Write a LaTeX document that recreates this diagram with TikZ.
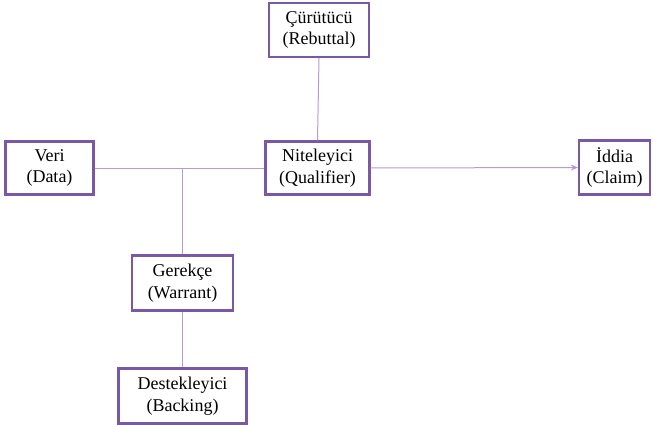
\documentclass[tikz,border=0pt]{standalone}
\usepackage{fontspec}
\setmainfont{Liberation Serif}
\usetikzlibrary{arrows.meta}
\definecolor{boxc}{HTML}{7A58A4}
\definecolor{linec}{HTML}{B49AD6}
\begin{document}
\begin{tikzpicture}[x=1pt,y=-1pt,
  box/.style={draw=boxc,line width=2.2pt,fill=white,inner sep=0pt,align=center,font=\fontsize{18}{21.5}\selectfont},
  conn/.style={draw=linec,line width=1pt}]
\useasboundingbox (0,0) rectangle (653,425);
\node[box,minimum width=100pt,minimum height=54pt] (reb) at (319,30) {Çürütücü\\(Rebuttal)};
\node[box,minimum width=88pt,minimum height=53pt] (veri) at (49.5,168) {Veri\\(Data)};
\node[box,minimum width=104pt,minimum height=53pt] (nit) at (317.5,168) {Niteleyici\\(Qualifier)};
\node[box,minimum width=71pt,minimum height=54pt] (claim) at (614.5,167.5) {İddia\\(Claim)};
\node[box,minimum width=101pt,minimum height=55pt] (war) at (182.5,283) {Gerekçe\\(Warrant)};
\node[box,minimum width=128pt,minimum height=55pt] (back) at (182.5,396) {Destekleyici\\(Backing)};
\coordinate (j) at (182.5,168);
\draw[conn] (veri.east) -- (nit.west);
\draw[conn] (reb.south) -- (nit.north);
\draw[conn] (j) -- (war.north);
\draw[conn] (war.south) -- (back.north);
\draw[conn,-{Stealth[length=7pt,width=6pt,fill=boxc]}] (nit.east) -- (claim.west);
\end{tikzpicture}
\end{document}
